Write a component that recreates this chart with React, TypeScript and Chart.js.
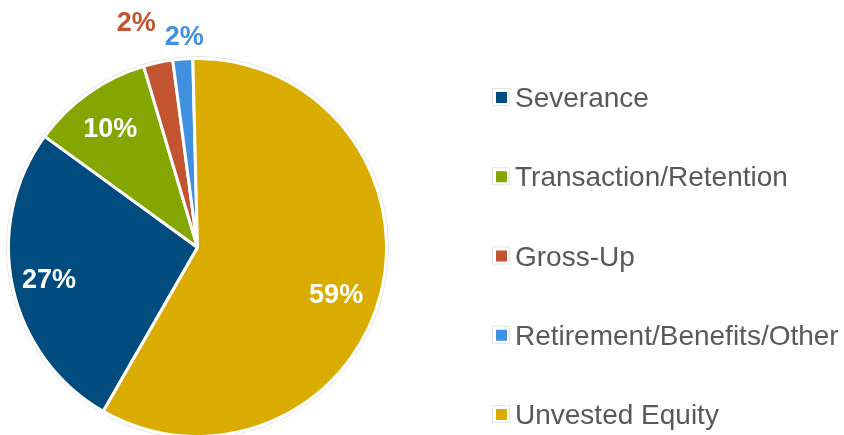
import { useEffect, useRef } from "react";
import { Chart, registerables } from "chart.js";

Chart.register(...registerables);

const categories = [
  "Severance",
  "Transaction/Retention",
  "Gross-Up",
  "Retirement/Benefits/Other",
  "Unvested Equity",
];
const shares = [26.7, 10.4, 2.5, 1.7, 58.7];
const percentLabels = ["27%", "10%", "2%", "2%", "59%"];
const sliceColors = ["#004C7E", "#84A600", "#C25431", "#4090E0", "#DAAC00"];

// label placement style: radius factor and angle offset (degrees) per slice
const labelRadius = [0.804, 0.78, 1.235, 1.116, 0.775];
const labelAngleOffset = [-0.3, -1, -3.2, 0.9, 4.6];
const labelInside = [true, true, false, false, true];

const FONT = '"Liberation Sans", Arial, sans-serif';

const pieLabelsPlugin = {
  id: "pieLabels",
  beforeDatasetsDraw(chart: any) {
    const meta = chart.getDatasetMeta(0);
    const arc = meta.data[0];
    if (!arc) return;
    const ctx = chart.ctx;
    ctx.save();
    ctx.beginPath();
    ctx.arc(arc.x, arc.y, arc.outerRadius + 2, 0, Math.PI * 2);
    ctx.strokeStyle = "#e2e2e2";
    ctx.lineWidth = 1;
    ctx.stroke();
    ctx.restore();
  },
  afterDatasetsDraw(chart: any) {
    const ctx = chart.ctx;
    const meta = chart.getDatasetMeta(0);
    ctx.save();
    ctx.font = `bold 27px ${FONT}`;
    ctx.textAlign = "center";
    ctx.textBaseline = "middle";
    meta.data.forEach((el: any, i: number) => {
      const mid = (el.startAngle + el.endAngle) / 2 + (labelAngleOffset[i] * Math.PI) / 180;
      const r = el.outerRadius * labelRadius[i];
      const x = el.x + Math.cos(mid) * r;
      const y = el.y + Math.sin(mid) * r;
      ctx.fillStyle = labelInside[i] ? "#ffffff" : sliceColors[i];
      ctx.fillText(percentLabels[i], x, y + 1);
    });
    ctx.restore();
  },
  afterDraw(chart: any) {
    const ctx = chart.ctx;
    ctx.save();
    const boxX = 492;
    const textX = 515;
    const startY = 97;
    const step = 79.25;
    ctx.font = `28px ${FONT}`;
    ctx.textAlign = "left";
    ctx.textBaseline = "alphabetic";
    categories.forEach((name, i) => {
      const cy = startY + step * i;
      ctx.strokeStyle = "#e4e4e4";
      ctx.lineWidth = 1;
      ctx.strokeRect(boxX + 0.5, cy - 8.5, 17, 17);
      ctx.fillStyle = sliceColors[i];
      ctx.fillRect(boxX + 4, cy - 5, 11, 11);
      ctx.fillStyle = "#595959";
      ctx.fillText(name, textX, cy + 10);
    });
    ctx.restore();
  },
};

export default function App() {
  const canvasRef = useRef<HTMLCanvasElement | null>(null);

  useEffect(() => {
    document.body.style.margin = "0";
    const canvas = canvasRef.current;
    if (!canvas) return;
    const chart = new Chart(canvas, {
      type: "pie",
      data: {
        labels: categories,
        datasets: [
          {
            data: shares,
            backgroundColor: sliceColors,
            borderColor: "#ffffff",
            borderWidth: 3,
            radius: 189,
          } as any,
        ],
      },
      options: {
        responsive: false,
        animation: false,
        devicePixelRatio: 1,
        rotation: 209.9,
        layout: { padding: { left: 7, right: 456, top: 60, bottom: 0 } },
        plugins: {
          legend: { display: false },
          tooltip: { enabled: false },
        },
        events: [],
      },
      plugins: [pieLabelsPlugin],
    });
    return () => chart.destroy();
  }, []);

  return (
    <div style={{ width: 844, height: 435, background: "#ffffff" }}>
      <canvas ref={canvasRef} width={844} height={435} style={{ display: "block" }} />
    </div>
  );
}
